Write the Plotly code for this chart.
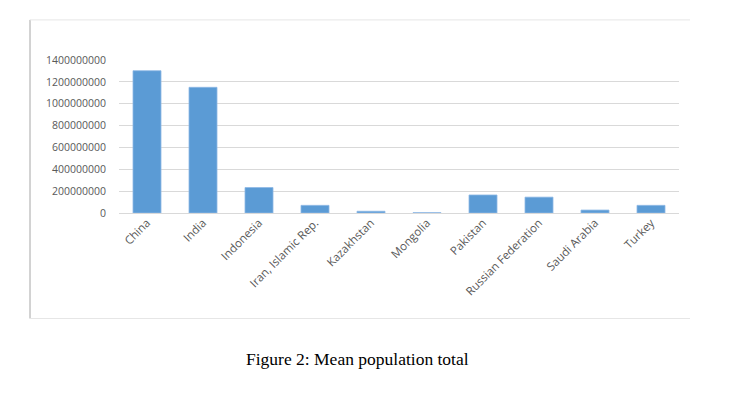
import plotly.graph_objects as go

countries = ["China", "India", "Indonesia", "Iran, Islamic Rep.", "Kazakhstan",
             "Mongolia", "Pakistan", "Russian Federation", "Saudi Arabia", "Turkey"]
population = [1302000000, 1150000000, 233000000, 70000000, 16000000,
              2700000, 165000000, 145000000, 27000000, 70000000]
y_ticks = [0, 200000000, 400000000, 600000000, 800000000, 1000000000,
           1200000000, 1400000000]
caption = "Figure 2: Mean population total"

W, H = 750, 397
OFF = 8  # page body margin
# target plot area in page pixels: x 119..679, y 60..212.7
L = 119 - OFF
R = W - (679 - OFF)
T = 60 - OFF
B = H - (212.7 - OFF)

fig = go.Figure(go.Bar(
    x=countries, y=population,
    marker=dict(color="#5B9BD5", line=dict(color="#8DB8E4", width=0.8)),
))

pw = W - L - R
ph = H - T - B
def px_x(x):
    return (x - OFF - L) / pw
def px_y(y):
    return (H - B - (y - OFF)) / ph

fig.update_layout(
    width=W, height=H,
    margin=dict(l=L, r=R, t=T, b=B),
    paper_bgcolor="white", plot_bgcolor="white",
    bargap=0.5,
    showlegend=False,
    font=dict(family="Open Sans", size=10.5, color="#595959"),
    xaxis=dict(tickangle=-45, showgrid=False, showline=False, ticks="",
               tickfont=dict(size=11.5, color="#595959")),
    yaxis=dict(range=[0, 1400000000], tickvals=y_ticks, tickformat="d",
               showgrid=True, gridcolor="#D9D9D9", gridwidth=1,
               zeroline=True, zerolinecolor="#D9D9D9", zerolinewidth=1,
               ticklabelstandoff=12,
               tickfont=dict(size=10.5, color="#595959")),
    shapes=[
        dict(type="line", xref="paper", yref="paper",
             x0=px_x(30), x1=px_x(30), y0=px_y(20), y1=px_y(318),
             line=dict(color="#A6A6A6", width=1)),
        dict(type="line", xref="paper", yref="paper",
             x0=px_x(30), x1=px_x(690), y0=px_y(20), y1=px_y(20),
             line=dict(color="#E6E6E6", width=1)),
        dict(type="line", xref="paper", yref="paper",
             x0=px_x(30), x1=px_x(690), y0=px_y(318), y1=px_y(318),
             line=dict(color="#E6E6E6", width=1)),
    ],
    annotations=[dict(
        text=caption, xref="paper", yref="paper",
        x=px_x(357), y=px_y(358), xanchor="center", yanchor="middle",
        showarrow=False,
        font=dict(family="Liberation Serif", size=17.5, color="#000000"),
    )],
)

fig.write_html("out.html")
